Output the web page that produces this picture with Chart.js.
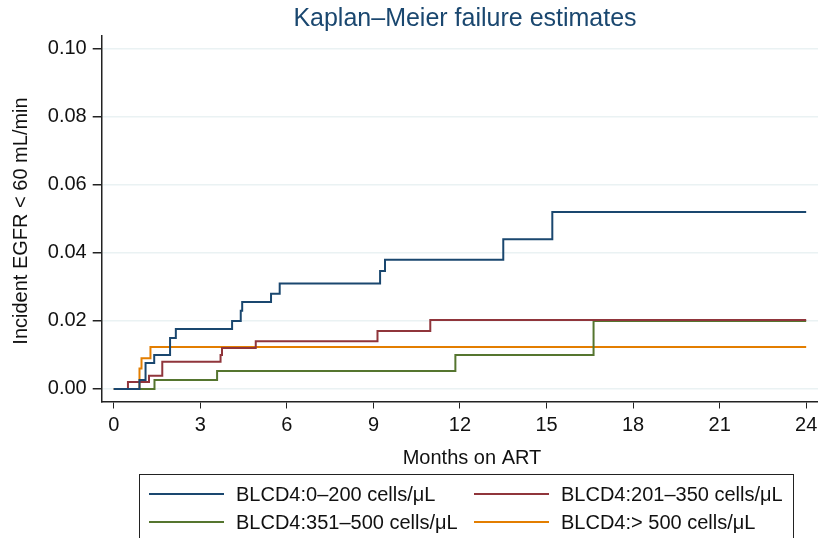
<!DOCTYPE html>
<html>
<head>
<meta charset="utf-8">
<script src="https://cdn.jsdelivr.net/npm/chart.js@4"></script>
<style>
  body { margin: 0; background: #fff; font-family: "Liberation Sans", Arial, sans-serif; overflow: hidden; }
  #wrap { position: relative; width: 818px; height: 538px; overflow: hidden; }
  #legend { position: absolute; left: 139px; top: 474px; width: 655px; height: 80px;
            border: 1.5px solid #222; box-sizing: border-box; font-size: 20px; color: #111; }
  .item { position: absolute; display: flex; align-items: center; height: 24px; }
  .item span.ln { display: inline-block; width: 75px; height: 2px; margin-right: 12px; }
</style>
</head>
<body>
<div id="wrap">
  <canvas id="km" width="818" height="538"></canvas>
  <div id="legend"></div>
</div>
<script>
// Kaplan-Meier failure estimates
const seriesNames = ['BLCD4:0\u2013200 cells/\u03bcL', 'BLCD4:201\u2013350 cells/\u03bcL',
                     'BLCD4:351\u2013500 cells/\u03bcL', 'BLCD4:> 500 cells/\u03bcL'];
const seriesColors = ['#1a476f', '#90353b', '#55752f', '#e37e00'];

const timesA = [0, 0.89, 1.1, 1.4, 1.95, 2.15, 4.1, 4.4, 4.45, 5.45, 5.75, 9.23, 9.4, 13.5, 15.2, 24];
const valsA  = [0, 0.0026, 0.0076, 0.010, 0.015, 0.0176, 0.020, 0.023, 0.0256, 0.028, 0.031, 0.0347, 0.038, 0.044, 0.052, 0.052];

const timesB = [0, 0.49, 1.22, 1.68, 3.7, 3.75, 4.92, 9.14, 10.97, 24];
const valsB  = [0, 0.002, 0.0039, 0.008, 0.010, 0.012, 0.014, 0.017, 0.0203, 0.0203];

const timesC = [0, 1.41, 3.58, 11.84, 16.63, 24];
const valsC  = [0, 0.0026, 0.0053, 0.010, 0.020, 0.020];

const timesD = [0, 0.89, 0.96, 1.27, 24];
const valsD  = [0, 0.006, 0.009, 0.0123, 0.0123];

const xTicks = [0, 3, 6, 9, 12, 15, 18, 21, 24];
const yTicks = [0, 0.02, 0.04, 0.06, 0.08, 0.10];

const allTimes = [timesA, timesB, timesC, timesD];
const allVals = [valsA, valsB, valsC, valsD];

const datasets = allTimes.map((t, i) => ({
    label: seriesNames[i],
    data: t.map((x, j) => ({ x: x, y: allVals[i][j] })),
    borderColor: seriesColors[i],
    borderWidth: 2,
    pointRadius: 0,
    stepped: true,
    fill: false
}));

const font = { family: '"Liberation Sans", Arial, sans-serif', size: 20 };

const titlesPlugin = {
    id: 'titles',
    afterDraw(chart) {
        const ctx = chart.ctx;
        ctx.save();
        ctx.fillStyle = '#1a476f';
        ctx.font = '25px "Liberation Sans", Arial, sans-serif';
        ctx.textAlign = 'center';
        ctx.textBaseline = 'middle';
        ctx.fillText('Kaplan\u2013Meier failure estimates', 465, 19);
        ctx.fillStyle = '#111';
        ctx.font = '20px "Liberation Sans", Arial, sans-serif';
        ctx.fillText('Months on ART', 472, 458);
        ctx.translate(21, 221);
        ctx.rotate(-Math.PI / 2);
        ctx.fillText('Incident EGFR < 60 mL/min', 0, 0);
        ctx.restore();
    }
};

new Chart(document.getElementById('km'), {
    type: 'line',
    data: { datasets: datasets },
    options: {
        responsive: false,
        animation: false,
        layout: { padding: { top: 36, right: 0, left: 0, bottom: 0 }, autoPadding: false },
        plugins: { legend: { display: false }, title: { display: false }, tooltip: { enabled: false } },
        scales: {
            x: {
                type: 'linear', min: -0.42, max: 24.41,
                afterFit: (s) => { s.height = 136.5; s.paddingLeft = 0; s.paddingRight = 0; },
                afterBuildTicks: (s) => { s.ticks = xTicks.map(v => ({ value: v })); },
                grid: { drawOnChartArea: false, drawTicks: true, tickLength: 7, color: '#222' },
                border: { color: '#222', width: 1.5 },
                ticks: { color: '#111', font: font, padding: 5, callback: v => v }
            },
            y: {
                type: 'linear', min: -0.0037, max: 0.1038,
                afterFit: (s) => { s.width = 101.7; s.paddingTop = 0; s.paddingBottom = 0; },
                afterBuildTicks: (s) => { s.ticks = yTicks.map(v => ({ value: v })); },
                grid: {
                    color: '#eaf2f3', lineWidth: 1.5, tickLength: 9,
                    tickColor: '#222'
                },
                border: { color: '#222', width: 1.5 },
                ticks: { color: '#111', font: font, padding: 6, callback: v => v.toFixed(2) }
            }
        }
    },
    plugins: [titlesPlugin]
});

// legend in two columns, boxed
const legend = document.getElementById('legend');
const slots = [[9, 7], [334, 7], [9, 35], [334, 35]];
seriesNames.forEach((name, i) => {
    const d = document.createElement('div');
    d.className = 'item';
    d.style.left = slots[i][0] + 'px';
    d.style.top = slots[i][1] + 'px';
    d.innerHTML = '<span class="ln" style="background:' + seriesColors[i] + '"></span>' + name;
    legend.appendChild(d);
});
</script>
</body>
</html>
